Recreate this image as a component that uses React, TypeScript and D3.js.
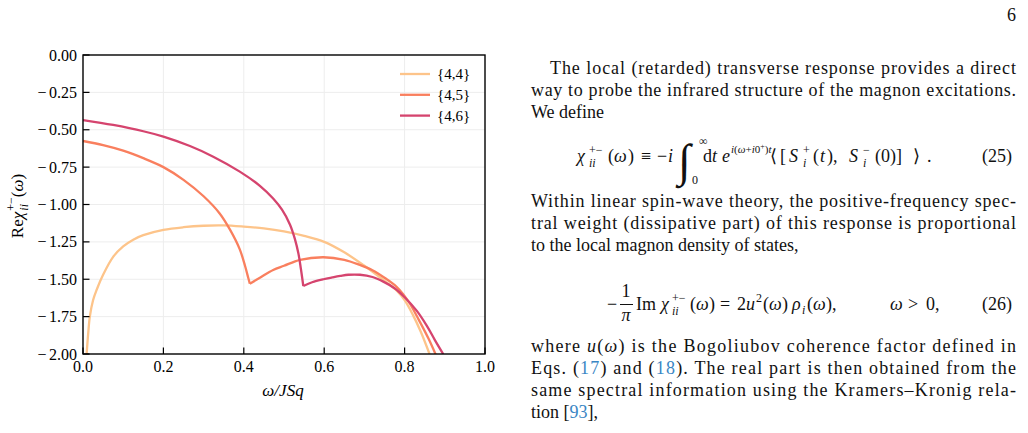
import React from 'react';
import * as d3 from 'd3';

// axis ticks
const xTicks = [0, 0.2, 0.4, 0.6, 0.8, 1.0];
const yTicks = [0, -0.25, -0.5, -0.75, -1.0, -1.25, -1.5, -1.75, -2.0];

const seriesNames = ['{4,4}', '{4,5}', '{4,6}'];
const seriesColors = ['#fdc48a', '#f97f5e', '#d5446e'];

// {4,4}
const omega44 = [0.009, 0.013, 0.017, 0.025, 0.034, 0.05, 0.075, 0.1, 0.125, 0.15, 0.2, 0.25, 0.3, 0.35, 0.4, 0.45, 0.5, 0.55, 0.6, 0.65, 0.7, 0.74, 0.78, 0.8, 0.82, 0.84, 0.862];
const re44 = [-2.0, -1.86, -1.75, -1.64, -1.57, -1.47, -1.35, -1.28, -1.235, -1.205, -1.17, -1.152, -1.142, -1.14, -1.148, -1.16, -1.18, -1.21, -1.25, -1.32, -1.41, -1.49, -1.575, -1.64, -1.735, -1.85, -2.0];

// {4,5}, below and above the band edge
const omega45a = [0, 0.05, 0.1, 0.15, 0.2, 0.25, 0.3, 0.34, 0.366, 0.39, 0.403, 0.411, 0.415];
const re45a = [-0.575, -0.603, -0.64, -0.69, -0.75, -0.835, -0.945, -1.06, -1.17, -1.3, -1.41, -1.49, -1.53];
const omega45b = [0.415, 0.44, 0.473, 0.5, 0.54, 0.598, 0.65, 0.689, 0.72, 0.75, 0.78, 0.81, 0.835, 0.86, 0.88];
const re45b = [-1.53, -1.49, -1.438, -1.41, -1.37, -1.353, -1.37, -1.405, -1.44, -1.49, -1.55, -1.65, -1.77, -1.9, -2.02];

// {4,6}
const omega46a = [0, 0.075, 0.15, 0.2, 0.266, 0.324, 0.39, 0.44, 0.473, 0.495, 0.515, 0.527, 0.536, 0.542, 0.548];
const re46a = [-0.435, -0.468, -0.51, -0.546, -0.609, -0.68, -0.78, -0.875, -0.96, -1.035, -1.135, -1.23, -1.33, -1.43, -1.545];
const omega46b = [0.548, 0.57, 0.598, 0.62, 0.64, 0.66, 0.689, 0.72, 0.747, 0.775, 0.8, 0.83, 0.855, 0.875, 0.896];
const re46b = [-1.545, -1.52, -1.5, -1.488, -1.478, -1.47, -1.47, -1.485, -1.516, -1.56, -1.62, -1.71, -1.81, -1.905, -2.0];

const W = 1028;
const H = 433;
const plot = { left: 83, right: 485, top: 55, bottom: 354 };
const serif = "'Liberation Serif', 'DejaVu Serif', serif";
const linkBlue = '#3a86c4';

const x = d3.scaleLinear().domain([0, 1]).range([plot.left, plot.right]);
const y = d3.scaleLinear().domain([-2, 0]).range([plot.bottom, plot.top]);

const line = d3.line<[number, number]>()
  .x(d => x(d[0]))
  .y(d => y(d[1]))
  .curve(d3.curveCatmullRom.alpha(0.5));

const zip = (a: number[], b: number[]) => a.map((v, i) => [v, b[i]] as [number, number]);

const branches = [
  { c: 0, pts: zip(omega44, re44) },
  { c: 1, pts: zip(omega45a, re45a) },
  { c: 1, pts: zip(omega45b, re45b) },
  { c: 2, pts: zip(omega46a, re46a) },
  { c: 2, pts: zip(omega46b, re46b) },
];

const I = (s: string, extra: any = {}) => <tspan fontStyle="italic" {...extra}>{s}</tspan>;

// small positioned text piece
const T = (px: number, py: number, s: string, extra: any = {}) => (
  <text x={px} y={py} {...extra}>{s}</text>
);

const Chart = () => (
  <g fontFamily={serif}>
    <defs>
      <clipPath id="plotclip">
        <rect x={plot.left} y={plot.top} width={plot.right - plot.left} height={plot.bottom - plot.top} />
      </clipPath>
    </defs>
    {/* grid */}
    {xTicks.slice(1, -1).map(t => (
      <line key={'gx' + t} x1={x(t)} x2={x(t)} y1={plot.top} y2={plot.bottom} stroke="#ededed" strokeWidth={1} />
    ))}
    {yTicks.slice(1, -1).map(t => (
      <line key={'gy' + t} x1={plot.left} x2={plot.right} y1={y(t)} y2={y(t)} stroke="#ededed" strokeWidth={1} />
    ))}
    {/* curves */}
    <g clipPath="url(#plotclip)">
      {branches.map((b, i) => (
        <path key={i} d={line(b.pts) || ''} fill="none" stroke={seriesColors[b.c]} strokeWidth={2.3} strokeLinejoin="round" />
      ))}
    </g>
    {/* frame and ticks */}
    <rect x={plot.left} y={plot.top} width={plot.right - plot.left} height={plot.bottom - plot.top} fill="none" stroke="#000" strokeWidth={1.4} />
    {yTicks.map(t => (
      <g key={'ty' + t}>
        <line x1={plot.left} x2={plot.left + 6.5} y1={y(t)} y2={y(t)} stroke="#000" strokeWidth={1.2} />
        <text x={77} y={y(t) + 5.5} textAnchor="end" fontSize={16}>
          {t < 0 ? <><tspan>−</tspan><tspan dx={2.5}>{Math.abs(t).toFixed(2)}</tspan></> : t.toFixed(2)}
        </text>
      </g>
    ))}
    {xTicks.map(t => (
      <g key={'tx' + t}>
        <line x1={x(t)} x2={x(t)} y1={plot.bottom} y2={plot.bottom - 6.5} stroke="#000" strokeWidth={1.2} />
        <text x={x(t)} y={372} textAnchor="middle" fontSize={16}>{t.toFixed(1)}</text>
      </g>
    ))}
    {/* axis labels */}
    <text x={283} y={396} textAnchor="middle" fontSize={17} fontStyle="italic">ω/JSq</text>
    <text transform="translate(23,206) rotate(-90)" textAnchor="middle" fontSize={17}>
      <tspan>Re</tspan>
      {I('χ')}
      <tspan fontSize={12} dy={-8} dx={1}>+−</tspan>
      {I('ii', { fontSize: 12, dx: -13.5, dy: 13 })}
      <tspan dx={6.8} dy={-5}>(</tspan>
      {I('ω')}
      <tspan>)</tspan>
    </text>
    {/* legend */}
    {seriesNames.map((n, i) => (
      <g key={n}>
        <line x1={400} x2={430} y1={74 + i * 20.8} y2={74 + i * 20.8} stroke={seriesColors[i]} strokeWidth={2.3} />
        <text x={437} y={79 + i * 20.8} fontSize={15}>{n}</text>
      </g>
    ))}
  </g>
);

const e25 = 162;
const e26 = 310;
const it = { fontStyle: 'italic' };
const sm = { fontSize: 12 };
const smi = { fontSize: 12, fontStyle: 'italic' };

const Body = () => (
  <g fontFamily={serif} fontSize={18} fill="#111">
    <text x={1016} y={21} textAnchor="end">6</text>

    <text x={550} y={74} textLength={466} lengthAdjust="spacing">The local (retarded) transverse response provides a direct</text>
    <text x={531} y={96} textLength={485} lengthAdjust="spacing">way to probe the infrared structure of the magnon excitations.</text>
    <text x={531} y={118}>We define</text>

    {/* eq. 25 */}
    {T(577, e25, 'χ', it)}
    {T(589, e25 - 8, '+−', sm)}
    {T(589, e25 + 5, 'ii', smi)}
    {T(608, e25, '(')}
    {T(614, e25, 'ω', it)}
    {T(628, e25, ')')}
    {T(641, e25, '≡')}
    {T(657, e25, '−')}
    {T(668, e25, 'i', it)}
    {T(678, e25 + 14, '∫', { fontSize: 46 })}
    {T(699, e25 - 17, '∞', sm)}
    {T(692, e25 + 22, '0', sm)}
    {T(703, e25, 'd')}
    {T(712, e25, 't', it)}
    {T(722, e25, 'e', it)}
    <text x={731} y={e25 - 9} fontSize={11}>
      {I('i')}<tspan>(</tspan>{I('ω')}<tspan>+</tspan>{I('i')}<tspan>0</tspan>
      <tspan fontSize={8} dy={-4}>+</tspan>
      <tspan dy={4}>)</tspan>{I('t')}
    </text>
    {T(770, e25, '⟨')}
    {T(780, e25, '[')}
    {T(789, e25, 'S', it)}
    {T(803, e25 - 8, '+', sm)}
    {T(803, e25 + 5, 'i', smi)}
    {T(813, e25, '(')}
    {T(820, e25, 't', it)}
    {T(827, e25, '),')}
    {T(849, e25, 'S', it)}
    {T(863, e25 - 8, '−', sm)}
    {T(863, e25 + 5, 'i', smi)}
    {T(875, e25, '(0)]')}
    {T(913, e25, '⟩')}
    {T(927, e25, '.')}
    <text x={1012} y={e25} textAnchor="end">(25)</text>

    <text x={531} y={207} textLength={485} lengthAdjust="spacing">Within linear spin-wave theory, the positive-frequency spec-</text>
    <text x={531} y={229} textLength={485} lengthAdjust="spacing">tral weight (dissipative part) of this response is proportional</text>
    <text x={531} y={251}>to the local magnon density of states,</text>

    {/* eq. 26 */}
    {T(607, e26, '−')}
    {T(626, e26 - 13, '1', { textAnchor: 'middle' })}
    <line x1={620} x2={633} y1={e26 - 5.5} y2={e26 - 5.5} stroke="#111" strokeWidth={1} />
    {T(626, e26 + 11, 'π', { textAnchor: 'middle', fontStyle: 'italic' })}
    {T(636, e26, 'Im')}
    {T(661, e26, 'χ', it)}
    {T(672, e26 - 8, '+−', sm)}
    {T(672, e26 + 5, 'ii', smi)}
    {T(690, e26, '(')}
    {T(696, e26, 'ω', it)}
    {T(709, e26, ')')}
    {T(720, e26, '=')}
    {T(737, e26, '2')}
    {T(746, e26, 'u', it)}
    {T(756, e26 - 8, '2', sm)}
    {T(763, e26, '(')}
    {T(769, e26, 'ω', it)}
    {T(782, e26, ')')}
    {T(792, e26, 'ρ', it)}
    {T(802, e26 + 4, 'i', smi)}
    {T(807, e26, '(')}
    {T(813, e26, 'ω', it)}
    {T(826, e26, '),')}
    {T(890, e26, 'ω', it)}
    {T(908, e26, '>')}
    {T(926, e26, '0,')}
    <text x={1012} y={e26} textAnchor="end">(26)</text>

    <text x={531} y={352} textLength={485} lengthAdjust="spacing">
      <tspan>where </tspan>{I('u')}<tspan>(</tspan>{I('ω')}<tspan>) is the Bogoliubov coherence factor defined in</tspan>
    </text>
    <text x={531} y={374} textLength={485} lengthAdjust="spacing">
      <tspan>Eqs. (</tspan><tspan fill={linkBlue}>17</tspan><tspan>) and (</tspan><tspan fill={linkBlue}>18</tspan>
      <tspan>).  The real part is then obtained from the</tspan>
    </text>
    <text x={531} y={396} textLength={485} lengthAdjust="spacing">same spectral information using the Kramers–Kronig rela-</text>
    <text x={531} y={418}>
      <tspan>tion [</tspan><tspan fill={linkBlue}>93</tspan><tspan>],</tspan>
    </text>
  </g>
);

export default function App() {
  return (
    <svg width={W} height={H} viewBox={`0 0 ${W} ${H}`} style={{ position: 'absolute', left: 0, top: 0, background: '#fff' }}>
      <rect width={W} height={H} fill="#fff" />
      <Chart />
      <Body />
    </svg>
  );
}
